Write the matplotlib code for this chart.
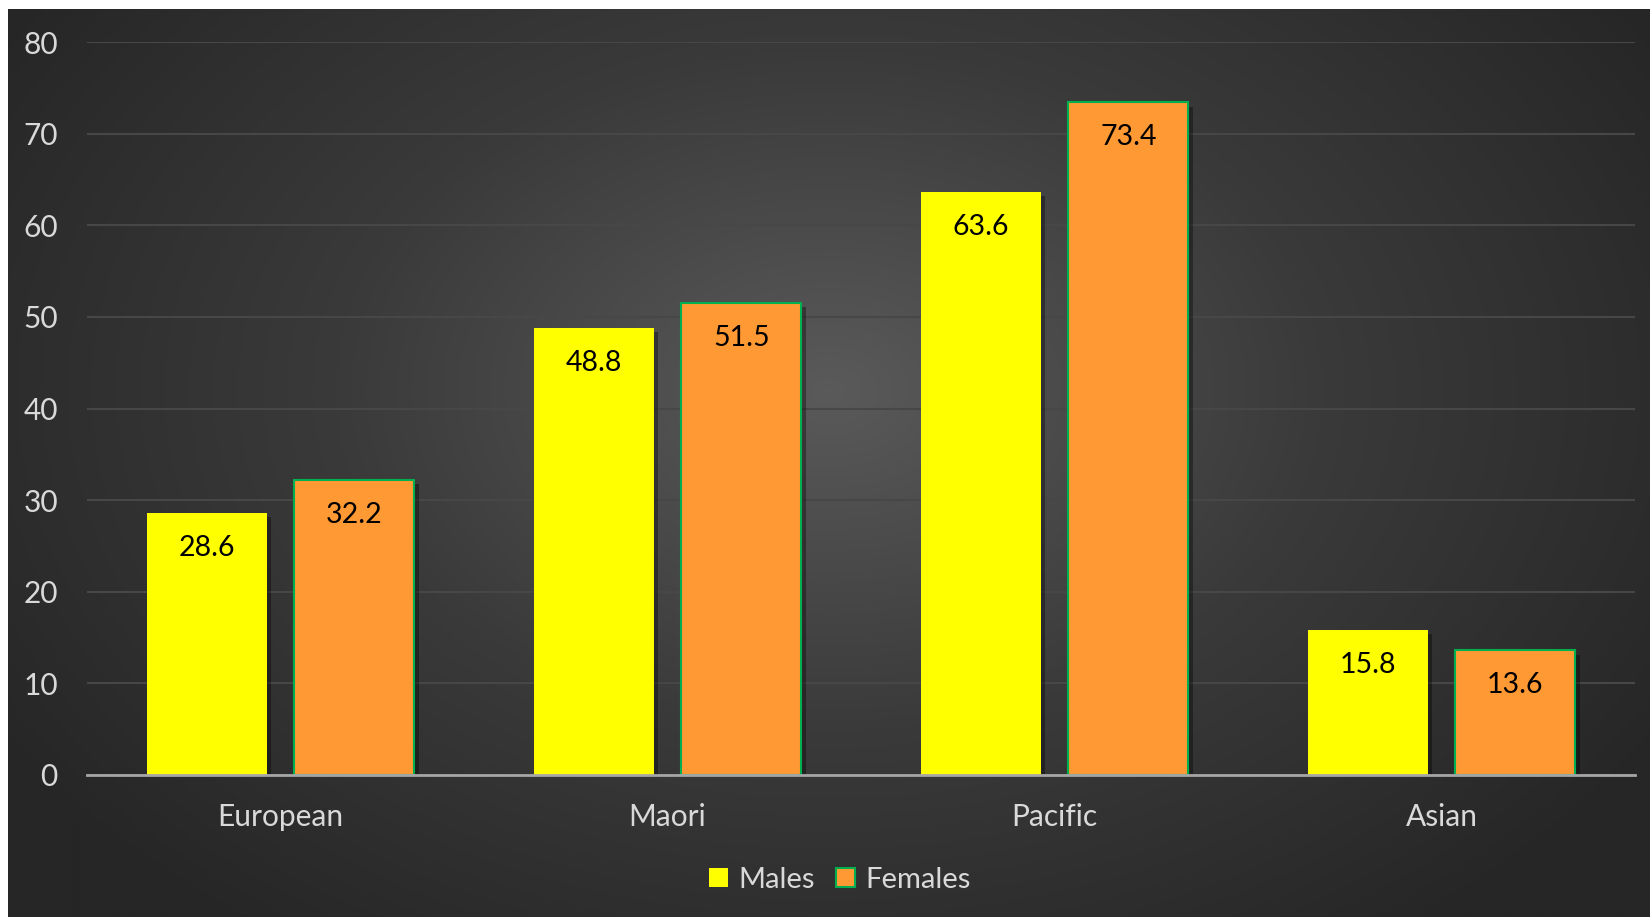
import numpy as np
import matplotlib
matplotlib.use("Agg")
import matplotlib.pyplot as plt
import matplotlib.patheffects as pe
from matplotlib.colors import LinearSegmentedColormap

categories = ["European", "Maori", "Pacific", "Asian"]
males = [28.6, 48.8, 63.6, 15.8]
females = [32.2, 51.5, 73.4, 13.6]
yticks = [0, 10, 20, 30, 40, 50, 60, 70, 80]

plt.rcParams["font.family"] = ["Lato", "DejaVu Sans"]

W, H = 1650, 917
fig = plt.figure(figsize=(W / 100, H / 100), dpi=100, facecolor="white")

# Radial gradient backdrop for the chart area
bg = fig.add_axes([8 / W, 0, 1 - 8 / W, 1 - 9 / H])
bg.set_axis_off()
nx, ny = 820, 454
xs = np.linspace(0, 1, nx)
ys = np.linspace(0, 1, ny)
X, Y = np.meshgrid(xs, ys)
cx, cy = 0.50, 0.42
r = np.sqrt(((X - cx) * 1.25) ** 2 + ((Y - cy) * 1.0) ** 2)
r = np.clip(r / 0.75, 0, 1)
cmap = LinearSegmentedColormap.from_list("bgc", ["#5a5a5a", "#3a3a3a", "#262626"])
bg.imshow(r, cmap=cmap, aspect="auto", extent=[0, 1, 0, 1], origin="upper",
          interpolation="bilinear")
bg.set_xlim(0, 1)
bg.set_ylim(0, 1)

ax = fig.add_axes([87 / W, 1 - 775 / H, (1635 - 87) / W, (775 - 42) / H])
ax.patch.set_alpha(0)
ax.set_xlim(-0.5, len(categories) - 0.5)
ax.set_ylim(0, 80)

x = np.arange(len(categories))
bw = 0.31
gap = 0.072
shadow = [pe.SimplePatchShadow(offset=(3, -3), shadow_rgbFace="black", alpha=0.35), pe.Normal()]
mb = ax.bar(x - (bw + gap) / 2, males, width=bw, color="#ffff00", edgecolor="none",
            zorder=3, label="Males")
fb = ax.bar(x + (bw + gap) / 2, females, width=bw, color="#ff9933", edgecolor="#00b050",
            linewidth=1.5, zorder=3, label="Females")
for p in list(mb) + list(fb):
    p.set_path_effects(shadow)

for bars, vals in ((mb, males), (fb, females)):
    for b, v in zip(bars, vals):
        ax.annotate(f"{v:.1f}", (b.get_x() + b.get_width() / 2, v),
                    xytext=(0, -25), textcoords="offset points",
                    ha="center", va="center", fontsize=20.5, color="black", zorder=5)

ax.set_yticks(yticks)
ax.yaxis.grid(True, color="#474747", linewidth=1.5, zorder=0)
ax.set_axisbelow(True)
for s in ("top", "right", "left"):
    ax.spines[s].set_visible(False)
ax.spines["bottom"].set_color("#a6a6a6")
ax.spines["bottom"].set_linewidth(2)
ax.spines["bottom"].set_zorder(4)
ax.tick_params(axis="y", length=0, pad=21, labelsize=21.5, labelcolor="#d9d9d9")
ax.set_xticks(x)
ax.set_xticklabels(categories)
ax.tick_params(axis="x", length=0, pad=20, labelsize=21.5, labelcolor="#d9d9d9")

leg = fig.legend(handles=[mb, fb], labels=["Males", "Females"], loc="center",
                 bbox_to_anchor=(840 / W, 1 - 880 / H), ncol=2, frameon=False,
                 fontsize=21, labelcolor="#d9d9d9", handlelength=0.65, handleheight=0.65,
                 handletextpad=0.35, columnspacing=0.75)
for h in leg.legend_handles:
    h.set_path_effects([pe.Normal()])

fig.savefig("out.png", dpi=100, facecolor="white")
